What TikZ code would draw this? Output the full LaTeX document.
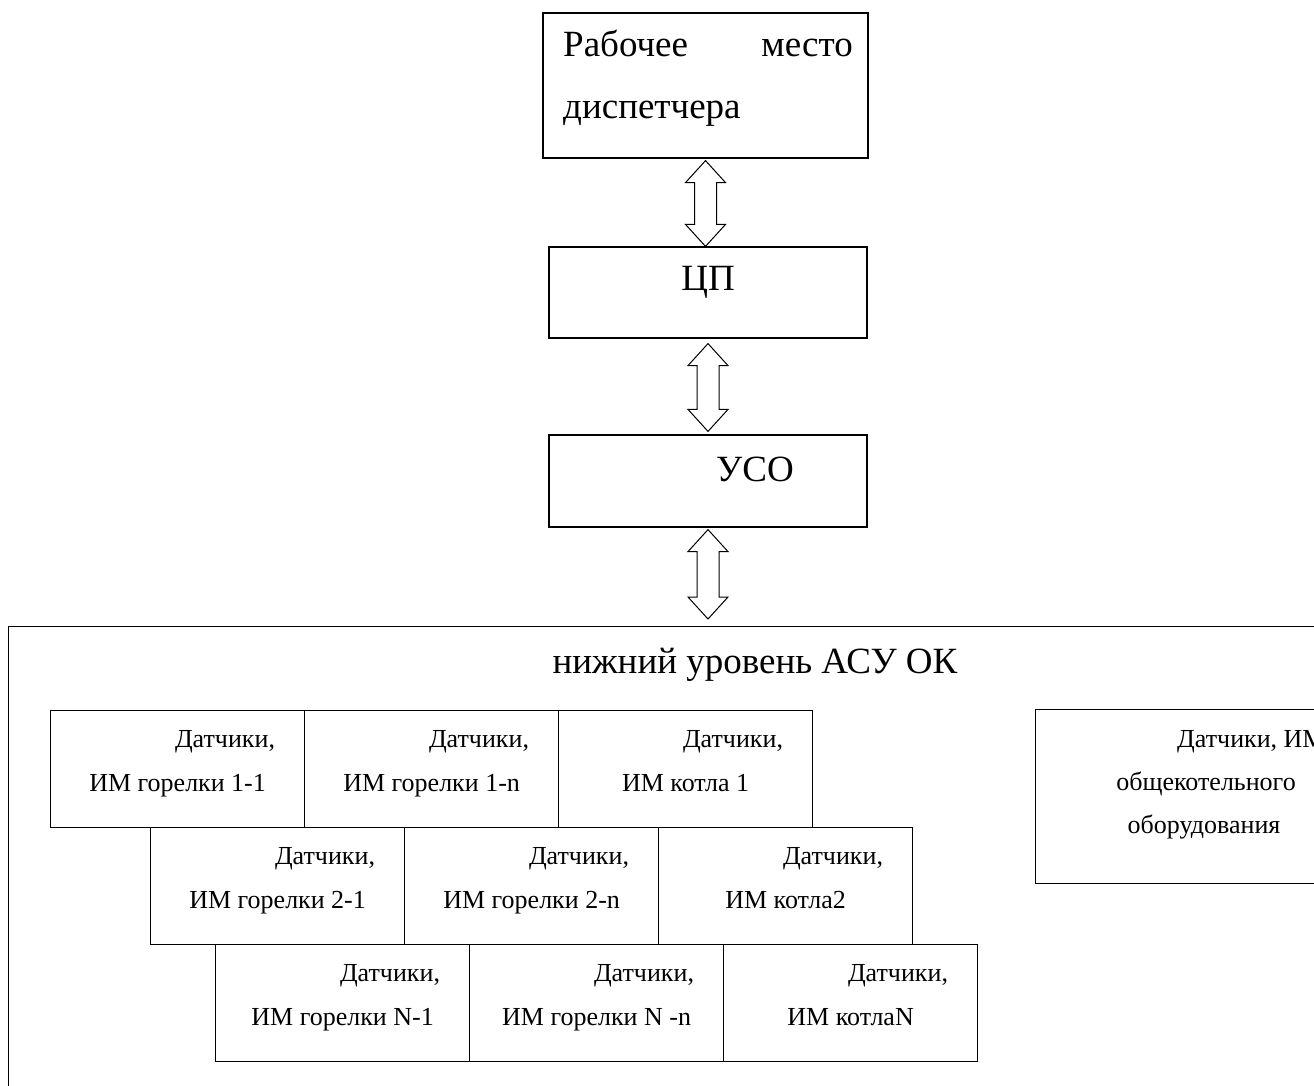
\documentclass[tikz,border=0pt]{standalone}
\usepackage{fontspec}
\setmainfont{Liberation Serif}
\usetikzlibrary{calc}

\newcommand{\bigfont}{\fontsize{37}{42}\selectfont}
\newcommand{\midfont}{\fontsize{37}{42}\selectfont}
\newcommand{\smallfont}{\fontsize{26}{30}\selectfont}

\tikzset{
  block/.style={draw, line width=1.2pt, inner sep=0pt},
  cell/.style={block, minimum width=254, minimum height=117},
  txt/.style={inner sep=0pt},
  bus/.style={draw, line width=1pt, line join=miter}
}

% double outline arrow between two boxes: upper node, gap, lower node, gap
\newcommand{\busarrow}[4]{%
  \draw[bus] let \p1=(#1.south), \p2=(#3.north) in
    (\x1,\y1-#2) -- (\x1+20pt,\y1-#2-22pt) -- (\x1+11pt,\y1-#2-22pt)
    -- (\x1+11pt,\y2+#4+22pt) -- (\x1+20pt,\y2+#4+22pt) -- (\x1,\y2+#4)
    -- (\x1-20pt,\y2+#4+22pt) -- (\x1-11pt,\y2+#4+22pt)
    -- (\x1-11pt,\y1-#2-22pt) -- (\x1-20pt,\y1-#2-22pt) -- cycle;}

% one cell of the lower level: name, left, top, second line
\newcommand{\cell}[4]{%
  \node[cell, anchor=north west] (#1) at (#2,#3) {};
  \node[txt, anchor=base east] (#1-a) at ($(#1.north east)+(-30,37)$) {\smallfont Датчики,};
  \node[txt, anchor=base] (#1-b) at ($(#1.north)+(0,81)$) {\smallfont #4};}

\begin{document}
\begin{tikzpicture}[x=1pt, y=-1pt]
\useasboundingbox (0,0) rectangle (1314,1086);
\clip (0,0) rectangle (1314,1086);

% upper level
\node[block, minimum width=325, minimum height=145] (work) at (705.5,85.5) {};
\node[txt, anchor=base west] (work-a) at (563,57) {\bigfont Рабочее};
\node[txt, anchor=base east] (work-b) at (853,57) {\bigfont место};
\node[txt, anchor=base west] (work-c) at (563,119) {\bigfont диспетчера};

\node[block, minimum width=318, minimum height=91] (cp) at (708,292.5) {};
\node[txt, anchor=base] (cp-a) at (708,290) {\bigfont ЦП};

\node[block, minimum width=318, minimum height=92] (uso) at (708,481) {};
\node[txt, anchor=base] (uso-a) at (755,481) {\bigfont УСО};

% lower level
\node[block, anchor=north west, minimum width=1400, minimum height=600] (lower) at (8,626) {};
\node[txt, anchor=base] (lower-a) at (755,673) {\midfont нижний уровень АСУ ОК};

\busarrow{work}{2pt}{cp}{0pt}
\busarrow{cp}{5pt}{uso}{3pt}
\busarrow{uso}{2pt}{lower}{7pt}

\cell{c11}{50}{710}{ИМ горелки 1-1}
\cell{c12}{304}{710}{ИМ горелки 1-n}
\cell{c13}{558}{710}{ИМ котла 1}

\cell{c21}{150}{827}{ИМ горелки 2-1}
\cell{c22}{404}{827}{ИМ горелки 2-n}
\cell{c23}{658}{827}{ИМ котла2}

\cell{c31}{215}{944}{ИМ горелки N-1}
\cell{c32}{469}{944}{ИМ горелки N -n}
\cell{c33}{723}{944}{ИМ котлаN}

\node[block, anchor=north west, minimum width=400, minimum height=174] (common) at (1035,709) {};
\node[txt, anchor=base west] (common-a) at (1177,747) {\smallfont Датчики, ИМ};
\node[txt, anchor=base] (common-b) at (1206,790) {\smallfont общекотельного};
\node[txt, anchor=base] (common-c) at (1204,833) {\smallfont оборудования};

\end{tikzpicture}
\end{document}
